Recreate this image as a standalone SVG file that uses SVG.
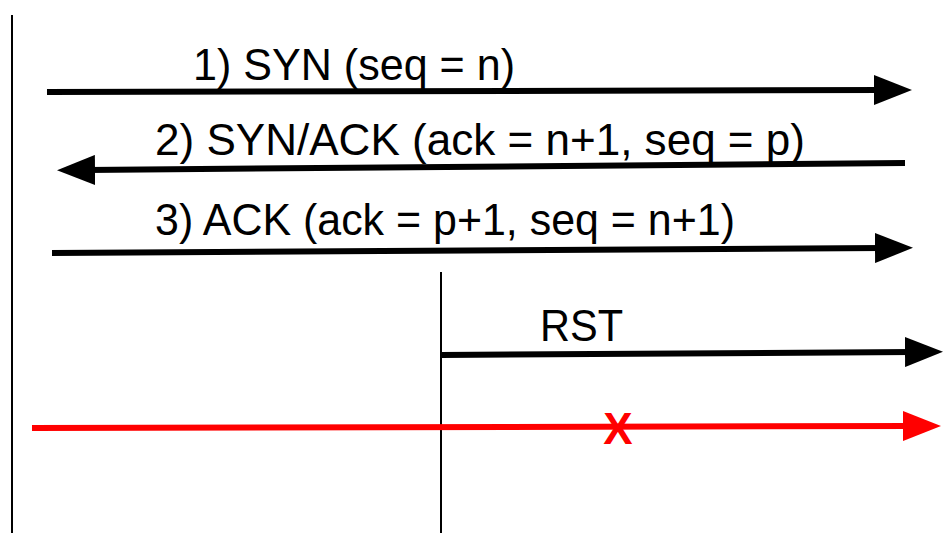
<svg xmlns="http://www.w3.org/2000/svg" width="947" height="533" viewBox="0 0 947 533">
  <style>
    .lbl { font-family: "Liberation Sans", Arial, sans-serif; font-size: 44px; fill: #000; }
    .life { stroke: #000; stroke-width: 2; fill: none; }
    .msg { stroke: #000; stroke-width: 6; fill: none; }
    .lost { stroke: #ff0000; stroke-width: 6; fill: none; }
  </style>
  <defs>
    <!-- arrowheads: the head starts a few px before the line end so the stroke stays hidden -->
    <marker id="headBlack" markerUnits="userSpaceOnUse" markerWidth="40" markerHeight="30" refX="8" refY="15" orient="auto">
      <path d="M0,0 L38,15 L0,30 Z" fill="#000"/>
    </marker>
    <marker id="headRed" markerUnits="userSpaceOnUse" markerWidth="40" markerHeight="30" refX="8" refY="15" orient="auto">
      <path d="M0,0 L38,15 L0,30 Z" fill="#ff0000"/>
    </marker>
  </defs>

  <!-- lifelines -->
  <g id="client-lifeline">
    <line class="life" x1="12" y1="15" x2="12" y2="533"/>
  </g>
  <g id="attacker-lifeline">
    <line class="life" x1="441" y1="272" x2="441" y2="533"/>
  </g>

  <!-- messages -->
  <g id="connectors">
    <line class="msg" x1="47" y1="92" x2="882" y2="90" marker-end="url(#headBlack)"/>
    <line class="msg" x1="905" y1="163" x2="87" y2="170" marker-end="url(#headBlack)"/>
    <line class="msg" x1="52" y1="253" x2="883" y2="248" marker-end="url(#headBlack)"/>
    <line class="msg" x1="441" y1="355" x2="913" y2="352" marker-end="url(#headBlack)"/>
    <line class="lost" x1="32" y1="428" x2="911" y2="426" marker-end="url(#headRed)"/>
  </g>

  <!-- labels -->
  <g id="label-syn">
    <text class="lbl" x="193" y="80" textLength="322" lengthAdjust="spacingAndGlyphs">1) SYN (seq = n)</text>
  </g>
  <g id="label-synack">
    <text class="lbl" x="155" y="155" textLength="650" lengthAdjust="spacingAndGlyphs">2) SYN/ACK (ack = n+1, seq = p)</text>
  </g>
  <g id="label-ack">
    <text class="lbl" x="155" y="235" textLength="580" lengthAdjust="spacingAndGlyphs">3) ACK (ack = p+1, seq = n+1)</text>
  </g>
  <g id="label-rst">
    <text class="lbl" x="540" y="341" textLength="83" lengthAdjust="spacingAndGlyphs">RST</text>
  </g>
  <g id="drop-mark">
    <text x="618" y="444" text-anchor="middle" font-family="Liberation Sans, Arial, sans-serif" font-weight="bold" font-size="44" fill="#ff0000">X</text>
  </g>
</svg>
